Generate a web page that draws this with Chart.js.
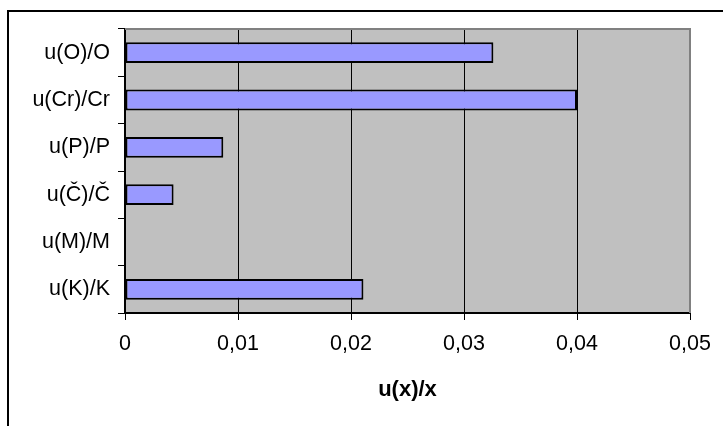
<!DOCTYPE html>
<html>
<head>
<meta charset="utf-8">
<script src="https://cdn.jsdelivr.net/npm/chart.js@4/dist/chart.umd.min.js"></script>
<style>
  html, body { margin: 0; padding: 0; background: #ffffff; overflow: hidden; }
  canvas { display: block; }
</style>
</head>
<body>
<canvas id="c" width="723" height="426"></canvas>
<script>
// Relative uncertainties per quantity
const categories = ['u(O)/O', 'u(Cr)/Cr', 'u(P)/P', 'u(Č)/Č', 'u(M)/M', 'u(K)/K'];
const values = [0.0326, 0.0400, 0.0087, 0.0043, 0, 0.0211];
const xTickLabels = ['0', '0,01', '0,02', '0,03', '0,04', '0,05'];
const xTitle = 'u(x)/x';

const FONT = 'Liberation Sans, Arial, sans-serif';

// Plot-area fill, its grey top/right edge and the outer frame
const framePlugin = {
  id: 'frame',
  beforeDraw(chart) {
    const { ctx, chartArea: a } = chart;
    ctx.save();
    ctx.fillStyle = '#ffffff';
    ctx.fillRect(0, 0, chart.width, chart.height);
    ctx.fillStyle = '#c0c0c0';
    ctx.fillRect(a.left, a.top, a.right - a.left, a.bottom - a.top);
    ctx.strokeStyle = '#000000';
    ctx.lineWidth = 2;
    ctx.strokeRect(8, 11, chart.width + 20, chart.height + 20);
    ctx.restore();
  },
  afterDraw(chart) {
    const { ctx, chartArea: a } = chart;
    ctx.save();
    ctx.strokeStyle = '#808080';
    ctx.lineWidth = 2;
    ctx.beginPath();
    ctx.moveTo(a.left, a.top);
    ctx.lineTo(a.right, a.top);
    ctx.lineTo(a.right, a.bottom);
    ctx.stroke();
    ctx.restore();
  }
};

new Chart(document.getElementById('c'), {
  type: 'bar',
  data: {
    labels: categories,
    datasets: [{
      data: values,
      backgroundColor: '#9999ff',
      borderColor: '#000000',
      borderWidth: 2,
      borderSkipped: false,
      categoryPercentage: 1,
      barPercentage: 0.44
    }]
  },
  options: {
    indexAxis: 'y',
    responsive: false,
    animation: false,
    devicePixelRatio: 1,
    layout: { padding: { left: 0, right: 33, top: 29, bottom: 0 } },
    plugins: {
      legend: { display: false },
      tooltip: { enabled: false }
    },
    scales: {
      x: {
        type: 'linear',
        min: 0,
        max: 0.05,
        ticks: {
          stepSize: 0.01,
          color: '#000000',
          font: { family: FONT, size: 21.5 },
          padding: 11,
          maxRotation: 0,
          callback: (v, i) => xTickLabels[i]
        },
        grid: {
          color: '#000000',
          lineWidth: 1,
          drawTicks: true,
          tickLength: 7
        },
        border: { display: true, color: '#000000', width: 2 },
        title: {
          display: true,
          text: xTitle,
          color: '#000000',
          font: { family: FONT, size: 22, weight: 'bold' },
          padding: { top: 0, bottom: 23 }
        },
        afterFit(scale) { scale.height = 113; }
      },
      y: {
        type: 'category',
        ticks: {
          color: '#000000',
          font: { family: FONT, size: 21.5 },
          padding: 8
        },
        grid: {
          offset: true,
          color: '#000000',
          drawOnChartArea: false,
          drawTicks: true,
          tickLength: 7
        },
        border: { display: true, color: '#000000', width: 2 },
        afterFit(scale) { scale.width = 125; }
      }
    }
  },
  plugins: [framePlugin]
});
</script>
</body>
</html>
